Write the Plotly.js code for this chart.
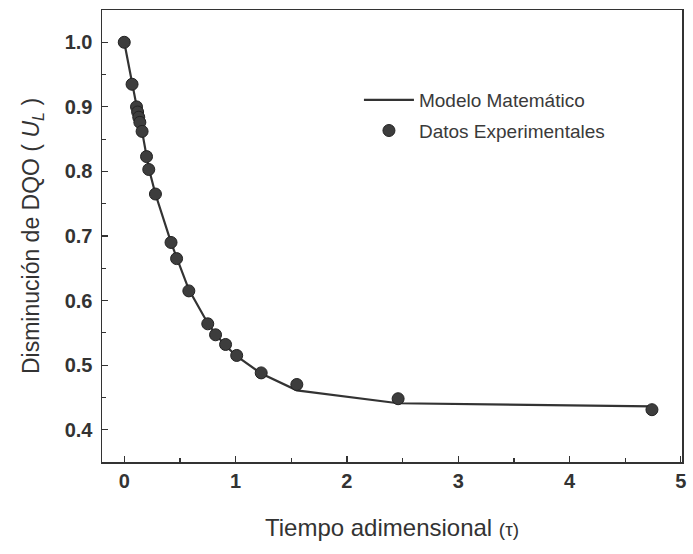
<!DOCTYPE html>
<html>
<head>
<meta charset="utf-8">
<script src="https://cdn.plot.ly/plotly-3.0.1.min.js"></script>
<style>html,body{margin:0;padding:0;background:#fff;}#chart{width:693px;height:554px;}</style>
</head>
<body>
<div id="chart"></div>
<script>
// Experimental data (dimensionless time vs. COD reduction U_L)
const tauExp = [0, 0.07, 0.11, 0.12, 0.13, 0.14, 0.16, 0.20, 0.22, 0.28, 0.42, 0.47, 0.58, 0.75, 0.82, 0.91, 1.01, 1.23, 1.55, 2.46, 4.74];
const uExp   = [1.0, 0.935, 0.900, 0.892, 0.884, 0.876, 0.862, 0.823, 0.803, 0.765, 0.690, 0.665, 0.615, 0.564, 0.547, 0.532, 0.515, 0.488, 0.470, 0.448, 0.431];

// Mathematical model curve
const tauModel = [0, 0.07, 0.12, 0.16, 0.20, 0.22, 0.28, 0.42, 0.47, 0.58, 0.75, 0.82, 0.91, 1.01, 1.23, 1.55, 2.46, 4.74];
const uModel   = [1.0, 0.935, 0.893, 0.862, 0.825, 0.805, 0.765, 0.690, 0.667, 0.617, 0.565, 0.548, 0.530, 0.514, 0.487, 0.461, 0.441, 0.436];

const xTicks = [0, 1, 2, 3, 4, 5];
const yTicks = [0.4, 0.5, 0.6, 0.7, 0.8, 0.9, 1.0];

const traces = [
  {
    x: tauModel, y: uModel, mode: 'lines', name: 'Modelo Matemático', legendgroup: 'a',
    line: {color: '#333333', width: 2.2}
  },
  {
    x: tauExp, y: uExp, mode: 'markers', name: 'Datos Experimentales', legendgroup: 'b',
    marker: {color: '#3d3d3d', size: 12, line: {color: '#222222', width: 1}}
  }
];

const FONT = 'Liberation Sans, Arial, sans-serif';
const axisCommon = {
  showgrid: false, zeroline: false, showline: true, mirror: true,
  linecolor: '#333333', linewidth: 1.5,
  ticks: 'inside', ticklen: 6, tickwidth: 1.2, tickcolor: '#333333',
  tickfont: {family: FONT, size: 20, color: '#333333', weight: 'bold'}
};

const layout = {
  width: 693, height: 554,
  margin: {l: 102, r: 11, t: 10, b: 92},
  paper_bgcolor: '#ffffff', plot_bgcolor: '#ffffff',
  font: {family: FONT, color: '#333333'},
  showlegend: true,
  legend: {
    x: 0.443, y: 0.843, xanchor: 'left', yanchor: 'top',
    bgcolor: 'rgba(0,0,0,0)', borderwidth: 0, itemwidth: 50,
    font: {family: FONT, size: 19, color: '#3a3a3a'},
    tracegroupgap: 3
  },
  xaxis: Object.assign({}, axisCommon, {
    range: [-0.2, 5.01], tickvals: xTicks, ticktext: xTicks.map(String),
    minor: {dtick: 0.5, ticks: 'inside', ticklen: 4, tickcolor: '#333333'},
    title: {text: 'Tiempo adimensional <span style="font-size:19px">(τ)</span>', font: {size: 24, color: '#333333'}, standoff: 28}
  }),
  yaxis: Object.assign({}, axisCommon, {
    range: [0.35, 1.05], tickvals: yTicks, ticktext: yTicks.map(v => v.toFixed(1)),
    ticklabelstandoff: 4,
    minor: {dtick: 0.05, ticks: 'inside', ticklen: 4, tickcolor: '#333333'},
    title: {text: 'Disminución de DQO ( <i>U<sub>L</sub></i> )', font: {size: 23, color: '#333333'}, standoff: 18}
  })
};

Plotly.newPlot('chart', traces, layout, {displayModeBar: false, staticPlot: true});
</script>
</body>
</html>
